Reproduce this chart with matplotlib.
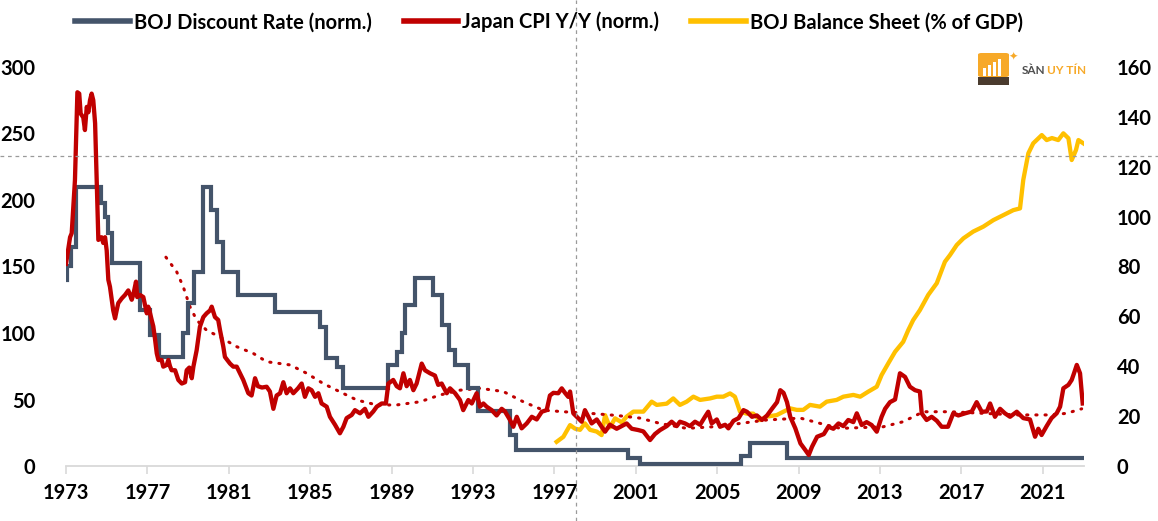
import matplotlib
matplotlib.use("Agg")
import matplotlib.pyplot as plt
from matplotlib.lines import Line2D
from matplotlib.patches import Rectangle, FancyBboxPatch

plt.rcParams['font.family'] = ['Lato', 'DejaVu Sans']

# ---------------- data ----------------
dr_years = [1973.00, 1973.06, 1973.25, 1973.50, 1974.71, 1974.92, 1975.08, 1975.25,
            1976.64, 1977.13, 1977.57, 1978.76, 1978.98, 1979.29, 1979.72, 1980.11,
            1980.41, 1980.70, 1981.44, 1983.27, 1985.48, 1985.78, 1986.32, 1986.61,
            1988.84, 1989.27, 1989.51, 1989.66, 1990.15, 1991.05, 1991.46, 1991.82,
            1992.11, 1992.75, 1993.25, 1994.82, 1995.11, 2000.60, 2001.20, 2006.15,
            2006.60, 2008.41, 2023.00]
dr_vals = [140, 150, 165, 210, 197.5, 187.5, 175, 152.4,
           117, 98.5, 82.2, 100, 122.5, 146, 210, 192.5,
           168.6, 146, 128.6, 116, 104.7, 81, 74.7, 58.6,
           76, 86, 100, 121, 141, 128.6, 106, 87,
           76, 58.6, 41, 23, 12, 5.8, 1.3, 7.5,
           17, 6.2, 6.2]

cpi_years = [1973.00, 1973.20, 1973.28, 1973.44, 1973.56, 1973.65, 1973.72, 1973.85, 1973.93, 1974.02,
             1974.10, 1974.18, 1974.26, 1974.34, 1974.43, 1974.51, 1974.59, 1974.75, 1974.83, 1974.92,
             1975.00, 1975.08, 1975.16, 1975.25, 1975.32, 1975.41, 1975.49, 1975.57, 1975.74, 1975.90,
             1976.06, 1976.14, 1976.23, 1976.31, 1976.44, 1976.50, 1976.64, 1976.80, 1976.97, 1977.04,
             1977.13, 1977.21, 1977.29, 1977.37, 1977.46, 1977.54, 1977.70, 1977.78, 1977.95, 1978.03,
             1978.11, 1978.19, 1978.36, 1978.52, 1978.69, 1978.85, 1978.93, 1979.06, 1979.18, 1979.26,
             1979.42, 1979.58, 1979.75, 1979.91, 1980.08, 1980.16, 1980.32, 1980.48, 1980.57, 1980.73,
             1980.81, 1981.06, 1981.22, 1981.39, 1981.55, 1981.71, 1981.96, 1982.12, 1982.29, 1982.43,
             1982.63, 1982.86, 1983.02, 1983.19, 1983.35, 1983.52, 1983.68, 1983.84, 1984.01, 1984.17,
             1984.40, 1984.58, 1984.74, 1984.91, 1985.07, 1985.24, 1985.40, 1985.56, 1985.81, 1985.97,
             1986.22, 1986.46, 1986.63, 1986.79, 1987.04, 1987.20, 1987.45, 1987.69, 1987.86, 1988.10,
             1988.27, 1988.51, 1988.72, 1988.84, 1989.08, 1989.25, 1989.41, 1989.58, 1989.74, 1989.90,
             1990.07, 1990.23, 1990.48, 1990.64, 1990.89, 1991.13, 1991.29, 1991.46, 1991.71, 1991.87,
             1992.12, 1992.36, 1992.52, 1992.77, 1992.94, 1993.18, 1993.34, 1993.51, 1993.67, 1993.92,
             1994.16, 1994.41, 1994.57, 1994.82, 1994.98, 1995.15, 1995.39, 1995.64, 1995.89, 1996.13,
             1996.38, 1996.62, 1996.78, 1996.95, 1997.19, 1997.36, 1997.52, 1997.68, 1997.77, 1997.85,
             1997.93, 1998.10, 1998.34, 1998.50, 1998.67, 1998.83, 1999.08, 1999.32, 1999.49, 1999.73,
             2000.06, 2000.31, 2000.55, 2000.80, 2001.13, 2001.37, 2001.70, 2001.94, 2002.19, 2002.52,
             2002.76, 2003.01, 2003.17, 2003.42, 2003.66, 2003.91, 2004.16, 2004.40, 2004.56, 2004.73,
             2004.98, 2005.14, 2005.39, 2005.55, 2005.80, 2006.05, 2006.29, 2006.46, 2006.71, 2006.95,
             2007.20, 2007.45, 2007.69, 2007.94, 2008.10, 2008.26, 2008.43, 2008.59, 2008.84, 2009.09,
             2009.33, 2009.50, 2009.66, 2009.91, 2010.24, 2010.46, 2010.71, 2010.96, 2011.20, 2011.44,
             2011.69, 2011.86, 2012.10, 2012.34, 2012.59, 2012.84, 2013.08, 2013.25, 2013.49, 2013.74,
             2013.98, 2014.23, 2014.47, 2014.72, 2014.96, 2015.05, 2015.29, 2015.54, 2015.79, 2016.03,
             2016.34, 2016.60, 2016.85, 2017.18, 2017.51, 2017.75, 2018.00, 2018.25, 2018.41, 2018.65,
             2018.90, 2019.14, 2019.39, 2019.72, 2020.04, 2020.37, 2020.62, 2020.78, 2020.94, 2021.19,
             2021.43, 2021.68, 2021.85, 2022.01, 2022.26, 2022.42, 2022.54, 2022.67, 2022.83, 2022.96]
cpi_vals = [152, 172, 175, 215, 281, 280, 265, 262, 252.6, 270,
            266, 275, 280, 275, 257.7, 215, 170, 172, 167.7, 172,
            162, 140, 134.8, 125, 117, 111, 117, 122.5, 126, 128.6,
            132, 129, 125, 129, 138.6, 127, 128.6, 127, 114.8, 119.8,
            115, 109.8, 105, 96, 84.7, 79.7, 79.7, 74.7, 76, 79.7,
            75, 72, 72, 64.7, 62, 63, 72, 74, 66, 74.7,
            87, 104.7, 112, 114.8, 117, 119.8, 112, 109.8, 102, 89.7,
            82, 77, 74.7, 74.7, 69.7, 64.7, 54.7, 53, 66, 60,
            59, 59.6, 56, 43, 53, 54.7, 63, 54.7, 58.4, 54.7,
            58.4, 62, 52, 58.4, 57, 52, 54.7, 47, 44.6, 37,
            31, 24.6, 29.5, 36, 38.4, 42, 39.6, 43, 37, 41,
            44.6, 47, 47, 62, 64.7, 60, 58.4, 69.7, 60, 64.7,
            57, 62, 77, 72, 69.7, 68, 61, 62, 54.7, 58.4,
            54.7, 49.6, 42, 49.6, 47, 54.7, 44.6, 47, 44.6, 42,
            38, 43, 41, 34.6, 29.5, 37, 28.3, 32, 37, 35,
            40.8, 42, 53, 55, 54.7, 58.4, 55, 52, 56, 48,
            39.6, 37, 33.3, 42, 37, 32, 35, 29.5, 25.8, 31,
            28, 30, 32, 28, 27, 26, 19.5, 24, 27, 30,
            33.3, 30, 33.3, 32, 30, 33.3, 31, 37, 40.8, 32,
            35, 29.5, 31, 28.3, 34, 36, 42, 40.8, 37, 38,
            34.6, 38, 43, 48, 57, 55, 48, 37, 28.3, 17,
            12, 8.3, 14.5, 22, 24, 29.5, 28, 32, 30, 34.6,
            33, 39.6, 30.8, 33, 30.8, 25.8, 37, 43, 48, 50,
            69.7, 67, 59.6, 57, 56, 39.6, 34.6, 37, 34, 29.5,
            29.5, 39.6, 38, 39.6, 41, 48, 40.8, 41, 47, 37,
            43, 39.6, 37, 40.8, 36, 35, 22, 28, 23.3, 30,
            36, 39.6, 44.6, 58.4, 61, 64.7, 70, 76, 69.7, 47]

trend_years = [1977.91, 1978.44, 1978.76, 1979.09, 1979.42, 1979.91, 1980.57, 1981.39, 1982.20, 1982.86,
               1984.01, 1984.83, 1985.64, 1986.30, 1987.29, 1988.27, 1989.25, 1990.40, 1991.38, 1992.36,
               1993.34, 1994.49, 1995.47, 1996.45, 1997.44, 1998.75, 2000.06, 2001.21, 2002.19, 2003.50,
               2004.81, 2006.12, 2007.43, 2009.09, 2010.07, 2011.05, 2013.16, 2014.14, 2015.13, 2016.44,
               2018.08, 2019.72, 2021.35, 2022.17, 2022.91]
trend_vals = [157, 146, 134.8, 119.8, 109.8, 102, 97, 89.7, 84.7, 78.4,
              76, 69.7, 62, 57, 49.6, 45.9, 45.9, 48.3, 53.4, 57,
              58.4, 56, 48.3, 42, 40.8, 39.6, 38, 36, 32, 28.3,
              29.5, 32, 34.6, 36, 32, 28.3, 29.5, 33.3, 40.8, 40.8,
              39.6, 38.4, 38.4, 39.6, 43]

bs_years = [1997.11, 1997.44, 1997.77, 1998.01, 1998.26, 1998.50, 1998.75, 1999.08, 1999.32, 1999.49,
            1999.73, 1999.98, 2000.31, 2000.55, 2000.88, 2001.37, 2001.78, 2002.03, 2002.52, 2002.84,
            2003.17, 2003.50, 2003.83, 2004.16, 2004.65, 2004.98, 2005.30, 2005.63, 2005.87, 2006.12,
            2006.45, 2006.77, 2007.10, 2007.43, 2007.92, 2008.26, 2008.59, 2008.91, 2009.23, 2009.56,
            2010.05, 2010.38, 2010.87, 2011.20, 2011.69, 2012.03, 2012.42, 2012.84, 2013.08, 2013.41,
            2013.74, 2014.14, 2014.39, 2014.63, 2014.96, 2015.37, 2015.79, 2016.19, 2016.44, 2016.77,
            2017.10, 2017.58, 2018.08, 2018.57, 2019.06, 2019.55, 2019.88, 2020.04, 2020.29, 2020.53,
            2020.95, 2021.19, 2021.45, 2021.76, 2022.01, 2022.26, 2022.42, 2022.63, 2022.75, 2022.99]
bs_vals = [9.7, 11.7, 16.4, 15, 14.5, 17.1, 14.5, 13.8, 12.4, 20.4,
           15.5, 19.1, 17.5, 19.8, 21.8, 21.8, 25.8, 24.5, 25, 27.1,
           24.5, 25.8, 27.8, 26.5, 27.1, 27.8, 27.8, 29.1, 27.8, 21.8,
           21, 21, 18.4, 19.8, 20.4, 21.8, 23.1, 22.5, 22.5, 24.5,
           23.8, 25.8, 26.5, 27.8, 28.5, 27.8, 29.8, 31.8, 36.5, 41.2,
           45.8, 49.8, 54.5, 58.5, 62.5, 68.6, 73.3, 81.9, 84.6, 88.6,
           91.3, 94, 96, 98.6, 100.6, 102.6, 103.3, 114.7, 125.4, 129.4,
           132.7, 130.7, 131.5, 130.7, 133.4, 131.4, 122.7, 126.7, 130.7, 129.4]

x_ticks = [1973, 1977, 1981, 1985, 1989, 1993, 1997, 2001, 2005, 2009, 2013, 2017, 2021]
left_ticks = [0, 50, 100, 150, 200, 250, 300]
right_ticks = [0, 20, 40, 60, 80, 100, 120, 140, 160]

labels = ['BOJ Discount Rate (norm.)', 'Japan CPI Y/Y (norm.)', 'BOJ Balance Sheet (% of GDP)']

C_BLUE = '#44546A'
C_RED = '#C00000'
C_GOLD = '#FFC000'

# ---------------- figure ----------------
W, H = 1158, 521
fig = plt.figure(figsize=(W / 100, H / 100), dpi=100)
ax = fig.add_axes([66 / W, 1 - 466 / H, (1083.5 - 66) / W, (466 - 67) / H])
ax2 = ax.twinx()

l1, = ax.plot(dr_years, dr_vals, color=C_BLUE, lw=3.0, drawstyle='steps-post',
              solid_joinstyle='miter', zorder=3)
l2, = ax.plot(cpi_years, cpi_vals, color=C_RED, lw=3.1, zorder=4)
ax.plot(trend_years, trend_vals, color=C_RED, lw=2.2, linestyle=(0, (0.4, 2.6)),
        dash_capstyle='round', zorder=2)
l3, = ax2.plot(bs_years, bs_vals, color=C_GOLD, lw=3.1, zorder=3)

ax.set_xlim(1973, 2023)
ax.set_ylim(0, 300)
ax2.set_ylim(0, 160)
ax.set_xticks(x_ticks)
ax.set_yticks(left_ticks)
ax2.set_yticks(right_ticks)

for a in (ax, ax2):
    for s in a.spines.values():
        s.set_visible(False)
ax.spines['bottom'].set_visible(True)
ax.spines['bottom'].set_color('#D9D9D9')
ax.spines['bottom'].set_linewidth(1.3)

tkw = dict(labelsize=14.5)
ax.tick_params(axis='x', length=6, width=1.2, color='#D9D9D9', pad=6, **tkw)
ax.tick_params(axis='y', length=0, pad=22, **tkw)
ax2.tick_params(axis='y', length=0, pad=24, **tkw)
for lab in ax.get_xticklabels() + ax.get_yticklabels() + ax2.get_yticklabels():
    lab.set_fontweight('bold')

ax.set_zorder(ax2.get_zorder() + 1)
ax.patch.set_visible(False)

leg = fig.legend([l1, l2, l3], labels, loc='center', bbox_to_anchor=(0.474, 1 - 22 / H),
                 ncol=3, frameon=False, handlelength=2.7, handletextpad=0.2,
                 columnspacing=1.6, prop={'weight': 'bold', 'size': 14.5})
for h in leg.legend_handles:
    h.set_linewidth(4)

# crosshair dashed lines
fig.add_artist(Line2D([0, 1], [1 - 156 / H, 1 - 156 / H], transform=fig.transFigure,
                      color='#9A9A9A', lw=0.9, linestyle=(0, (3, 3))))
fig.add_artist(Line2D([576 / W, 576 / W], [0, 1], transform=fig.transFigure,
                      color='#9A9A9A', lw=0.9, linestyle=(0, (3, 3))))

# watermark logo
fig.add_artist(FancyBboxPatch((978 / W, 1 - 77 / H), 31 / W, 24 / H,
                              boxstyle='round,pad=0,rounding_size=0.003',
                              transform=fig.transFigure, facecolor='#F7A928', edgecolor='none'))
fig.add_artist(Rectangle((978 / W, 1 - 85 / H), 31 / W, 8 / H, transform=fig.transFigure,
                         facecolor='#4A3B2E', edgecolor='none'))
for i, hgt in enumerate([8, 11, 14, 17]):
    fig.add_artist(Rectangle(((983 + i * 5) / W, 1 - 76 / H), 2.5 / W, hgt / H,
                             transform=fig.transFigure, facecolor='white', edgecolor='none'))
fig.text(1013 / W, 1 - 57 / H, '\u2726', color='#F7A928', fontsize=8,
         family=['DejaVu Sans'], ha='center', va='center')
fig.text(1022 / W, 1 - 70 / H, 'SÀN', color='#4D4D4D', fontsize=8.5, weight='bold',
         ha='left', va='center')
fig.text(1047 / W, 1 - 70 / H, 'UY TÍN', color='#F7A928', fontsize=8.5, weight='bold',
         ha='left', va='center')

fig.savefig('out.png', dpi=100)
